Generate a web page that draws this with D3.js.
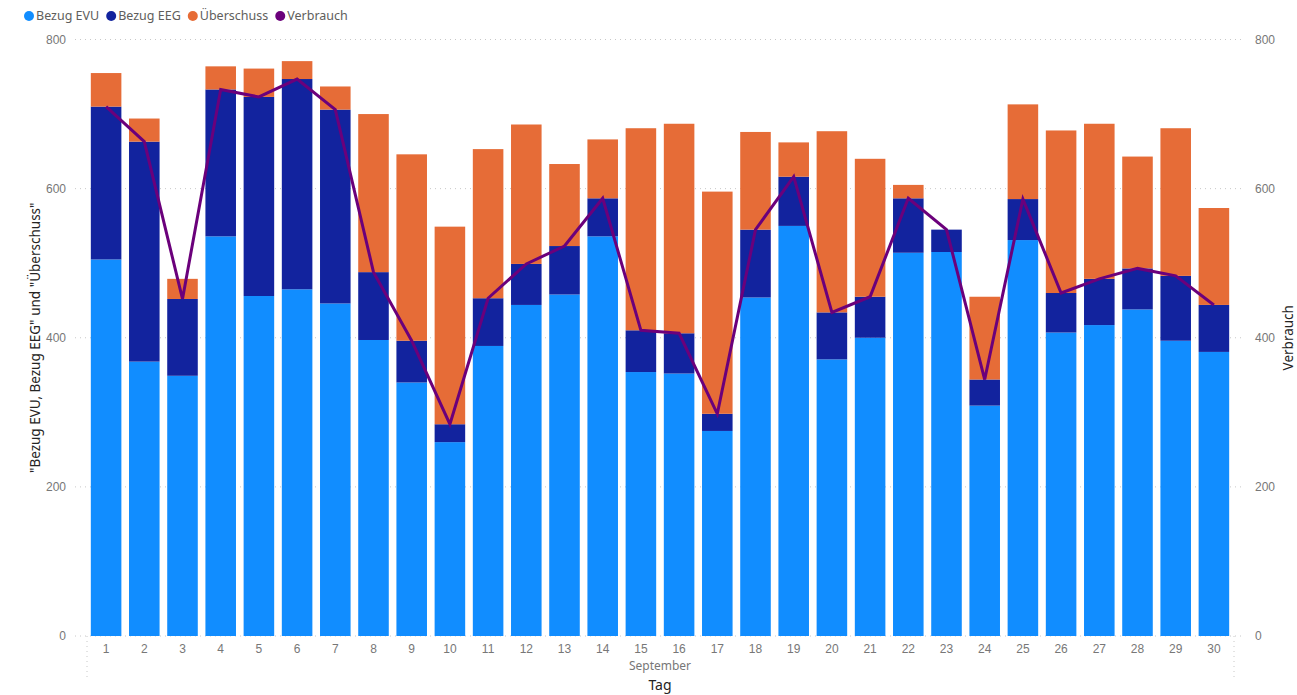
<!DOCTYPE html>
<html>
<head>
<meta charset="utf-8">
<script src="https://cdn.jsdelivr.net/npm/d3@7"></script>
<style>
  html, body { margin: 0; padding: 0; background: #fff; }
  svg { display: block; font-family: "Segoe UI", "Noto Sans", "Open Sans", sans-serif; }
</style>
</head>
<body>
<svg id="chart" width="1297" height="695"></svg>
<script>
// Daily energy figures for September (kWh)
const days = d3.range(1, 31).map(String);
const bezugEVU = [505, 368, 349, 536, 456, 465, 446, 397, 340, 260, 389, 444, 458, 536, 354,
                  352, 275, 454, 550, 371, 400, 514, 515, 309, 531, 407, 417, 438, 396, 381];
const bezugEEG = [205, 295, 103, 197, 267, 282, 260, 91, 56, 24, 64, 55, 65, 51, 56,
                  54, 23, 91, 66, 63, 55, 73, 30, 35, 55, 53, 62, 55, 87, 63];
const ueberschuss = [45, 31, 27, 31, 38, 24, 31, 212, 250, 265, 200, 187, 110, 79, 271,
                     281, 298, 131, 46, 243, 185, 18, 0, 111, 127, 218, 208, 150, 198, 130];
const verbrauch = [710, 663, 452, 733, 723, 747, 706, 488, 396, 284, 453, 499, 523, 587, 410,
                   406, 298, 545, 616, 434, 455, 587, 545, 344, 586, 460, 479, 493, 483, 444];
const yTicks = [0, 200, 400, 600, 800];

const seriesKeys = ["Bezug EVU", "Bezug EEG", "Überschuss"];
const colors = { "Bezug EVU": "#118DFF", "Bezug EEG": "#12239E", "Überschuss": "#E66C37", "Verbrauch": "#6B007B" };

const table = days.map((d, i) => ({
  tag: d,
  "Bezug EVU": bezugEVU[i],
  "Bezug EEG": bezugEEG[i],
  "Überschuss": ueberschuss[i]
}));

const svg = d3.select("#chart");
const plot = { left: 87, right: 1233, top: 39.5, bottom: 636 };

const x = d3.scaleBand().domain(days).range([plot.left, plot.right])
  .paddingInner(0.2).paddingOuter(0.1);
const yL = d3.scaleLinear().domain([0, 800]).range([plot.bottom, plot.top]);
const yR = d3.scaleLinear().domain([0, 800]).range([plot.bottom, plot.top]);

const gridColor = "#c8c8c8";
const tickColor = "#777777";

// Horizontal dotted gridlines
svg.append("g").selectAll("line").data(yTicks).join("line")
  .attr("x1", 75).attr("x2", 1245)
  .attr("y1", d => yL(d)).attr("y2", d => yL(d))
  .attr("stroke", gridColor).attr("stroke-width", 1)
  .attr("stroke-dasharray", "1 4");

// Dotted end markers below the category axis
svg.append("g").selectAll("line").data([plot.left, plot.right + 1]).join("line")
  .attr("x1", d => d).attr("x2", d => d)
  .attr("y1", plot.bottom).attr("y2", 677)
  .attr("stroke", gridColor).attr("stroke-dasharray", "1 4");

// Stacked bars
const stacked = d3.stack().keys(seriesKeys)(table);
svg.append("g").selectAll("g").data(stacked).join("g")
  .attr("fill", s => colors[s.key])
  .selectAll("rect").data(s => s).join("rect")
  .attr("x", d => x(d.data.tag))
  .attr("width", x.bandwidth())
  .attr("y", d => yL(d[1]))
  .attr("height", d => Math.max(0, yL(d[0]) - yL(d[1])));

// Consumption line on the secondary axis
const line = d3.line()
  .x((d, i) => x(days[i]) + x.bandwidth() / 2)
  .y(d => yR(d));
svg.append("path").datum(verbrauch)
  .attr("d", line)
  .attr("fill", "none")
  .attr("stroke", colors["Verbrauch"])
  .attr("stroke-width", 3)
  .attr("stroke-linejoin", "miter")
  .attr("stroke-miterlimit", 4);

// Left axis
const leftAxis = svg.append("g").attr("transform", "translate(66,0)")
  .call(d3.axisLeft(yL).tickValues(yTicks).tickSize(0).tickPadding(0));
leftAxis.select(".domain").remove();
leftAxis.selectAll("text").attr("fill", tickColor).style("font-size", "12px");

// Right axis
const rightAxis = svg.append("g").attr("transform", "translate(1255,0)")
  .call(d3.axisRight(yR).tickValues(yTicks).tickSize(0).tickPadding(0));
rightAxis.select(".domain").remove();
rightAxis.selectAll("text").attr("fill", tickColor).style("font-size", "12px");

// Category axis
const bottomAxis = svg.append("g").attr("transform", `translate(0,${plot.bottom})`)
  .call(d3.axisBottom(x).tickSize(0).tickPadding(8));
bottomAxis.select(".domain").remove();
bottomAxis.selectAll("text").attr("fill", tickColor).style("font-size", "12px");

svg.append("text")
  .attr("x", (plot.left + plot.right) / 2).attr("y", 670)
  .attr("text-anchor", "middle").attr("fill", tickColor)
  .style("font-size", "12px").text("September");

// Axis titles
const titleColor = "#252423";
svg.append("text")
  .attr("x", (plot.left + plot.right) / 2).attr("y", 690)
  .attr("text-anchor", "middle").attr("fill", titleColor)
  .style("font-size", "14px").text("Tag");

svg.append("text")
  .attr("transform", `translate(40,${(plot.top + plot.bottom) / 2}) rotate(-90)`)
  .attr("text-anchor", "middle").attr("fill", titleColor)
  .style("font-size", "13.5px").text("\"Bezug EVU, Bezug EEG\" und \"Überschuss\"");

svg.append("text")
  .attr("transform", `translate(1293,${(plot.top + plot.bottom) / 2}) rotate(-90)`)
  .attr("text-anchor", "middle").attr("fill", titleColor)
  .style("font-size", "13.5px").text("Verbrauch");

// Legend
const legendItems = ["Bezug EVU", "Bezug EEG", "Überschuss", "Verbrauch"];
const legend = svg.append("g").attr("transform", "translate(0,16)");
let lx = 24;
legendItems.forEach(name => {
  const g = legend.append("g").attr("transform", `translate(${lx},0)`);
  g.append("circle").attr("cx", 5).attr("cy", 0).attr("r", 5).attr("fill", colors[name]);
  const t = g.append("text").attr("x", 12).attr("y", 0).attr("dy", "0.35em")
    .attr("fill", "#605E5C").style("font-size", "12.5px").text(name);
  lx += 12 + t.node().getComputedTextLength() + 7;
});
</script>
</body>
</html>
